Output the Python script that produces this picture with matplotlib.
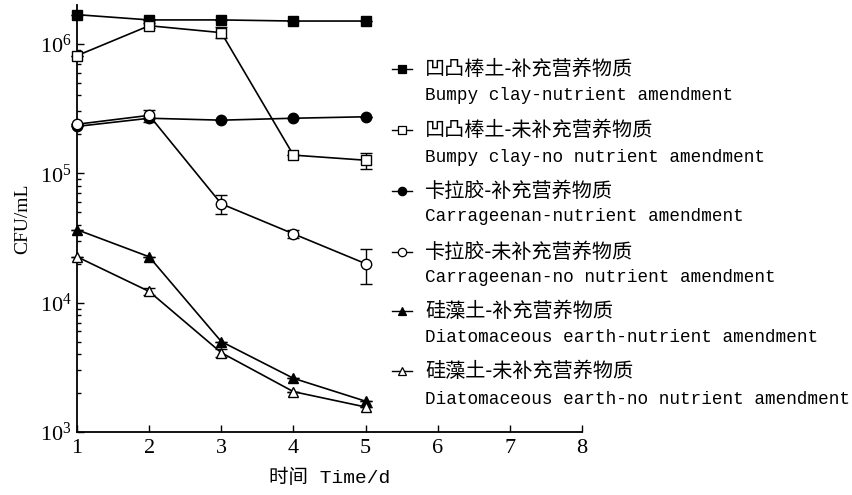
import matplotlib
matplotlib.use("Agg")
import matplotlib.pyplot as plt
from matplotlib.lines import Line2D
import numpy as np

days = [1, 2, 3, 4, 5]
names_cn = ["凹凸棒土-补充营养物质", "凹凸棒土-未补充营养物质", "卡拉胶-补充营养物质",
            "卡拉胶-未补充营养物质", "硅藻土-补充营养物质", "硅藻土-未补充营养物质"]
names_en = ["Bumpy clay-nutrient amendment", "Bumpy clay-no nutrient amendment",
            "Carrageenan-nutrient amendment", "Carrageenan-no nutrient amendment",
            "Diatomaceous earth-nutrient amendment", "Diatomaceous earth-no nutrient amendment"]
bumpy_nut = [1.68e6, 1.53e6, 1.53e6, 1.50e6, 1.50e6]
bumpy_no = [8.1e5, 1.38e6, 1.22e6, 1.38e5, 1.26e5]
carr_nut = [2.30e5, 2.66e5, 2.57e5, 2.66e5, 2.73e5]
carr_no = [2.39e5, 2.80e5, 5.8e4, 3.4e4, 2.0e4]
diat_nut = [3.66e4, 2.26e4, 5.0e3, 2.6e3, 1.73e3]
diat_no = [2.26e4, 1.22e4, 4.1e3, 2.05e3, 1.56e3]
err_bumpy_nut = [0, 0, 0, 0, 0]
err_bumpy_no = [0, 6e4, 1.2e5, 0, 1.8e4]
err_carr_nut = [0, 0, 0, 0, 0]
err_carr_no = [0, 3.0e4, 1.0e4, 2.5e3, 6e3]
err_diat_nut = [0, 0, 0, 0, 0]
err_diat_no = [0, 8e2, 3e2, 0, 0]

series = [bumpy_nut, bumpy_no, carr_nut, carr_no, diat_nut, diat_no]
errors = [err_bumpy_nut, err_bumpy_no, err_carr_nut, err_carr_no, err_diat_nut, err_diat_no]
markers = ["s", "s", "o", "o", "^", "^"]
fills = ["k", "w", "k", "w", "k", "w"]

plt.rcParams['font.family'] = ['Liberation Serif']
plt.rcParams['mathtext.fontset'] = 'stix'
W, H = 853, 495
fig = plt.figure(figsize=(W / 100, H / 100), dpi=100)
ax = fig.add_axes([77 / W, 1 - 432 / H, (582 - 77) / W, (432 - 5) / H])

for ys, es, m, fc in zip(series, errors, markers, fills):
    ax.errorbar(days, ys, yerr=es, color="k", lw=1.2, marker=m, ms=7.5,
                mfc=fc, mec="k", mew=1.0, capsize=4, elinewidth=1.0, clip_on=False, zorder=3)

ax.set_yscale("log")
ax.set_xlim(1, 8)
ax.set_ylim(1e3, 10 ** 6.30)
ax.set_xticks(range(1, 9))
ax.spines["top"].set_visible(False)
ax.spines["right"].set_visible(False)
for s in ["left", "bottom"]:
    ax.spines[s].set_linewidth(1.3)
ax.tick_params(direction="in", which="both", width=1.0)
ax.tick_params(which="major", length=5)
ax.tick_params(which="minor", length=3)
ax.tick_params(axis="y", labelsize=16, pad=4)
ax.tick_params(axis="x", labelsize=16, pad=5)
ax.set_ylabel("CFU/mL", fontfamily="Liberation Serif", fontsize=14, labelpad=6)
ax.set_xlabel("时间 Time/d", fontfamily=["Liberation Mono", "Noto Sans CJK SC"], fontsize=14,
              labelpad=8)

# legend
cn_y = [69, 130, 191, 252, 311, 371]
en_y = [95, 157, 217, 278, 338, 400]
for i in range(6):
    y = 1 - cn_y[i] / H
    ln = Line2D([392 / W, 402 / W, 412 / W], [y, y, y], transform=fig.transFigure,
                color="k", lw=1.0, marker=markers[i], markevery=[1], ms=6,
                mfc=fills[i], mec="k", mew=0.9)
    fig.add_artist(ln)
    fig.text(425 / W, y, names_cn[i], fontfamily=["Noto Sans CJK SC", "DejaVu Sans"],
             fontsize=14.5, va="center", ha="left")
    fig.text(425 / W, 1 - en_y[i] / H, names_en[i], fontfamily="Liberation Mono",
             fontsize=12.7, va="center", ha="left")

fig.savefig("out.png", dpi=100)
